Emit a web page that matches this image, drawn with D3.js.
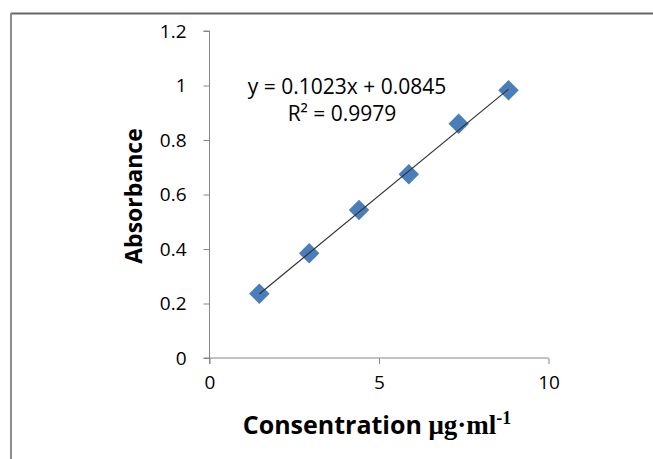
<!doctype html>
<html lang="en">
  <head>
    <meta charset="utf-8" />
    <title>Absorbance calibration</title>
    <script src="https://cdn.jsdelivr.net/npm/d3@7"></script>
    <style>
      body { margin: 0; background: #fff; }
      text { font-family: "Open Sans", sans-serif; fill: #000; }
    </style>
  </head>
  <body>
    <svg id="main" width="653" height="459"></svg>
    <script>
      // readings
      const concentration = [1.47, 2.94, 4.41, 5.88, 7.35, 8.82];
      const absorbance = [0.236, 0.384, 0.543, 0.674, 0.86, 0.983];
      const xTicks = [0, 5, 10];
      const yTicks = [0, 0.2, 0.4, 0.6, 0.8, 1, 1.2];
      const fit = { slope: 0.1023, intercept: 0.0845 };
      const equationLines = ['y = 0.1023x + 0.0845', 'R² = 0.9979'];

      const svg = d3.select('#main');
      const x = d3.scaleLinear().domain([0, 10]).range([209.5, 548.5]);
      const y = d3.scaleLinear().domain([0, 1.2]).range([358, 31]);

      // chart frame (only top + left edges are visible in the crop)
      svg.append('line').attr('x1', 11).attr('x2', 653).attr('y1', 13.5).attr('y2', 13.5)
        .style('stroke', '#666').style('stroke-width', 2);
      svg.append('line').attr('x1', 11).attr('x2', 11).attr('y1', 13).attr('y2', 459)
        .style('stroke', '#8c8c8c').style('stroke-width', 2);

      const axisColor = '#878787';
      const gx = svg.append('g').attr('transform', `translate(0,${y(0)})`)
        .call(d3.axisBottom(x).tickValues(xTicks).tickSize(6).tickPadding(8).tickFormat(d3.format('d')));
      const gy = svg.append('g').attr('transform', `translate(${x(0)},0)`)
        .call(d3.axisLeft(y).tickValues(yTicks).tickSize(6).tickPadding(17).tickFormat(d => String(+d.toFixed(1))));

      [gx, gy].forEach(g => {
        g.select('.domain').style('stroke', axisColor);
        g.selectAll('.tick line').style('stroke', axisColor);
        g.selectAll('.tick text').style('font-size', '19px').style('font-family', '"Open Sans", sans-serif').attr('fill', '#000');
      });
      // x axis runs a little past the y axis to the left, y axis past the x axis down
      gx.select('.domain').attr('d', `M${x(0) - 6},0H${x(10)}`);
      gy.select('.domain').attr('d', `M0,${y(0) + 6}V${y(1.2)}M0,${y(1.2)}h-6`);
      gx.selectAll('.tick text').attr('dy', '0.9em');

      // diamond markers
      const diamond = d3.symbol().type(d3.symbolSquare).size(210);
      svg.append('g').selectAll('path')
        .data(concentration)
        .join('path')
        .attr('d', diamond)
        .attr('transform', (d, i) => `translate(${x(d)},${y(absorbance[i])}) rotate(45)`)
        .style('fill', '#4a7ebb');

      // linear trendline across the data range, drawn over the markers
      const x0 = d3.min(concentration), x1 = d3.max(concentration);
      svg.append('line')
        .attr('x1', x(x0)).attr('y1', y(fit.slope * x0 + fit.intercept))
        .attr('x2', x(x1)).attr('y2', y(fit.slope * x1 + fit.intercept))
        .style('stroke', '#333').style('stroke-width', 1.2);

      // equation label
      svg.append('text').attr('x', 347).attr('y', 93.5).attr('text-anchor', 'middle')
        .style('font-size', '21px').text(equationLines[0]);
      svg.append('text').attr('x', 342).attr('y', 120.5).attr('text-anchor', 'middle')
        .style('font-size', '21px').text(equationLines[1]);

      // axis titles
      svg.append('text')
        .attr('transform', 'translate(142,196) rotate(-90)')
        .attr('text-anchor', 'middle')
        .style('font-size', '23px').style('font-weight', 'bold')
        .text('Absorbance');

      const xt = svg.append('text').attr('x', 377).attr('y', 434).attr('text-anchor', 'middle')
        .style('font-size', '25px').style('font-weight', 'bold');
      xt.append('tspan').text('Consentration ');
      xt.append('tspan').style('font-family', '"Liberation Serif", serif').style('font-size', '27px').text('μg·ml');
      xt.append('tspan').style('font-family', '"Liberation Serif", serif').style('font-size', '18px')
        .attr('dy', -10).text('-1');
    </script>
  </body>
</html>
